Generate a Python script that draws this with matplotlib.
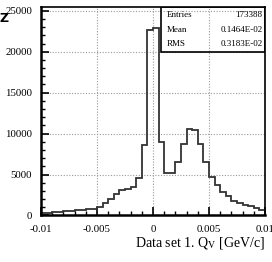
"""ROOT-style histogram of Q_V for data set 1."""

import matplotlib

matplotlib.use("Agg")

import matplotlib.pyplot as plt
import numpy as np
from matplotlib.patches import Rectangle

plt.rcParams["font.family"] = ["Liberation Serif", "DejaVu Serif"]
plt.rcParams["mathtext.fontset"] = "stix"

# histogram contents, 40 bins over [-0.01, 0.01]
bin_edges = np.linspace(-0.01, 0.01, 41)
counts = [
    270, 280, 390, 390, 550, 550, 670, 670, 790, 790,
    1080, 1560, 2015, 2620, 3080, 3200, 3520, 4540, 8610, 22700,
    22950, 8940, 5230, 5230, 6570, 8690, 10560, 10480, 8730, 6570,
    4700, 3700, 2830, 2380, 1810, 1560, 1280, 1160, 950, 670,
]

x_ticks = [-0.01, -0.005, 0.0, 0.005, 0.01]
x_tick_labels = ["-0.01", "-0.005", "0", "0.005", "0.01"]
y_ticks = [0, 5000, 10000, 15000, 20000, 25000]
y_tick_labels = ["0", "5000", "10000", "15000", "20000", "25000"]

stat_names = ["Entries", "Mean", "RMS"]
stat_values = ["173388", "0.1464E-02", "0.3183E-02"]

fig = plt.figure(figsize=(2.72, 2.62), dpi=100)
ax = fig.add_axes([0.1507, 0.1775, 0.8233, 0.7955])

ax.stairs(counts, bin_edges, color="#333333", linewidth=1.3)

ax.set_xlim(-0.01, 0.01)
ax.set_ylim(0, 25450)
ax.set_xticks(x_ticks)
ax.set_xticklabels(x_tick_labels)
ax.set_yticks(y_ticks)
ax.set_yticklabels(y_tick_labels)
ax.set_xticks(np.linspace(-0.01, 0.01, 21), minor=True)
ax.set_yticks(np.arange(0, 25001, 1000), minor=True)
ax.tick_params(which="both", direction="in", top=False, right=False, labelsize=7.8, pad=6.5)
ax.tick_params(which="major", length=6, width=1.2)
ax.tick_params(which="minor", length=3, width=1.0)

ax.grid(True, which="major", color="#999999", linestyle=(0, (1, 1.5)), linewidth=0.8)
ax.set_axisbelow(True)
for side in ["left", "bottom"]:
    ax.spines[side].set_linewidth(1.8)
for side in ["top", "right"]:
    ax.spines[side].set_linewidth(1.2)

# stats box
ax.add_patch(Rectangle((0.536, 0.784), 0.464, 0.216, transform=ax.transAxes,
                       fill=False, edgecolor="black", linewidth=1.2, zorder=5))
for ypos, name, value in zip([0.962, 0.890, 0.823], stat_names, stat_values):
    ax.text(0.561, ypos, name, transform=ax.transAxes, fontsize=6.5, va="center", ha="left")
    ax.text(0.99, ypos, value, transform=ax.transAxes, fontsize=6.5, va="center", ha="right")

fig.text(0.974, 0.072, r"Data set 1. Q$_{\mathrm{V}}$ [GeV/c]", fontsize=10,
         ha="right", va="center")
fig.text(0.0, 0.93, "Z", fontsize=9, fontweight="bold", family="DejaVu Sans",
         ha="left", va="center")

fig.savefig("out.png", dpi=100)
plt.close(fig)
